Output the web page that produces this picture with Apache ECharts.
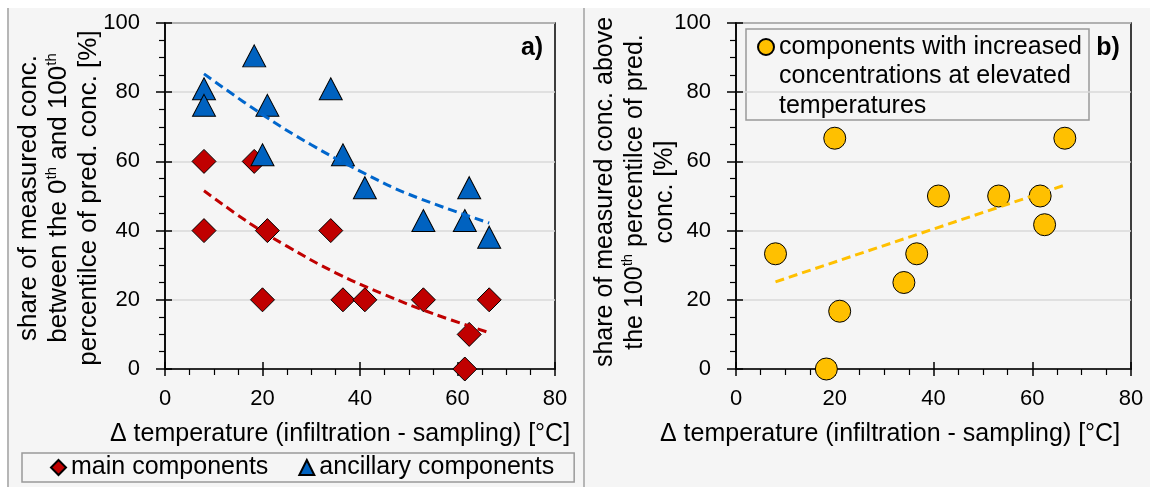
<!DOCTYPE html>
<html>
<head>
<meta charset="utf-8">
<script src="https://cdn.jsdelivr.net/npm/echarts@6/dist/echarts.min.js"></script>
<style>
  html, body { margin: 0; padding: 0; background: #ffffff; }
  #chart { width: 1150px; height: 487px; }
</style>
</head>
<body>
<div id="chart"></div>
<script>
// a) main components (share in %, 5 components)
var mainX = [8, 8, 18.3, 20, 21, 34, 36.5, 41, 53, 62.4, 61.5, 66.5];
var mainY = [60, 40, 60, 20, 40, 40, 20, 20, 20, 10, 0, 20];
// a) ancillary components
var ancX = [8, 8, 18.3, 21, 20, 34, 36.5, 41, 53, 62.4, 61.5, 66.5];
var ancY = [81, 76.2, 90.5, 76.2, 61.9, 81, 61.9, 52.4, 42.9, 52.4, 42.9, 38.1];
// a) trend lines
var mainTrendX = [8, 17.5, 25, 35, 45, 55, 66.5];
var mainTrendY = [51.5, 42, 35.5, 27.8, 21.5, 16, 10.5];
var ancTrendX = [8, 20, 30, 40, 50, 66.5];
var ancTrendY = [85.3, 73.5, 64.8, 57.2, 50.5, 42.2];
// b) components with increased concentrations
var incX = [8, 20, 18.3, 21, 34, 36.6, 41, 53.2, 61.6, 62.5, 66.6];
var incY = [33.3, 66.7, 0, 16.7, 25, 33.3, 50, 50, 50, 41.7, 66.7];
var incTrendX = [8, 66.5];
var incTrendY = [25.2, 53.1];
// axis ticks
var xTicks = { min: 0, max: 80, step: 20 };
var yTicks = { min: 0, max: 100, step: 20 };

var FONT = 'Liberation Sans, Arial, sans-serif';
var incName = 'components with increased\nconcentrations at elevated\ntemperatures';

function pairs(xs, ys) {
  return xs.map(function (x, i) { return [x, ys[i]]; });
}

// main axis: outside ticks, minor ticks, labels
function mainAxis(dim, grid, t) {
  return {
    gridIndex: grid, type: 'value', min: t.min, max: t.max, interval: t.step,
    position: dim === 'x' ? 'bottom' : 'left',
    axisLine: { show: true, lineStyle: { color: '#000', width: 1.5 } },
    axisTick: { show: true, length: dim === 'x' ? 7 : 9, lineStyle: { color: '#000', width: 1.5 } },
    minorTick: { show: true, splitNumber: 4, length: 6, lineStyle: { color: '#000', width: 1.2 } },
    splitLine: { show: dim === 'y', lineStyle: { color: '#d9d9d9', width: 1.5 } },
    axisLabel: { fontSize: 22, color: '#000', fontFamily: FONT, margin: dim === 'x' ? 19 : 25 }
  };
}
// twin axis only for the inner half of the crossing major ticks
function innerAxis(dim, grid, t) {
  return {
    gridIndex: grid, type: 'value', min: t.min, max: t.max, interval: t.step,
    position: dim === 'x' ? 'bottom' : 'left',
    axisLine: { show: false },
    axisTick: { show: true, inside: true, length: 7, lineStyle: { color: '#000', width: 1.5 } },
    axisLabel: { show: false },
    splitLine: { show: false }
  };
}

var dashed = function (color) {
  return { color: color, width: 3, type: [9, 5] };
};

var chart = echarts.init(document.getElementById('chart'));
chart.setOption({
  backgroundColor: '#f5f5f5',
  animation: false,
  grid: [
    { left: 165, top: 23, width: 390, height: 346, show: true, borderColor: '#000', borderWidth: 1.5, backgroundColor: 'transparent' },
    { left: 736, top: 23, width: 395, height: 346, show: true, borderColor: '#000', borderWidth: 1.5, backgroundColor: 'transparent' }
  ],
  xAxis: [mainAxis('x', 0, xTicks), innerAxis('x', 0, xTicks), mainAxis('x', 1, xTicks), innerAxis('x', 1, xTicks)],
  yAxis: [mainAxis('y', 0, yTicks), innerAxis('y', 0, yTicks), mainAxis('y', 1, yTicks), innerAxis('y', 1, yTicks)],
  legend: [
    {
      data: ['main components', 'ancillary components'],
      left: 22, top: 453,
      itemWidth: 15, itemHeight: 15, itemGap: 30,
      padding: [1, 20, 1, 28],
      borderColor: '#999', borderWidth: 1.5,
      textStyle: { fontSize: 25, color: '#000', fontFamily: FONT, lineHeight: 27 }
    },
    {
      data: [incName],
      left: 757, top: -26.75,
      itemWidth: 16, itemHeight: 16,
      padding: 0,
      // two empty lines on top keep the icon beside the first text line
      formatter: function (name) { return '\n\n' + name; },
      textStyle: { fontSize: 25, color: '#000', fontFamily: FONT, lineHeight: 29.5 }
    }
  ],
  graphic: [
    { type: 'rect', shape: { x: 0, y: 0, width: 1150, height: 8 }, style: { fill: '#ffffff' }, silent: true, z: -10 },
    { type: 'rect', shape: { x: 0, y: 0, width: 7, height: 487 }, style: { fill: '#ffffff' }, silent: true, z: -10 },
    { type: 'line', shape: { x1: 8, y1: 8, x2: 8, y2: 487 }, style: { stroke: '#a0a0a0', lineWidth: 1.5 }, silent: true },
    { type: 'line', shape: { x1: 584, y1: 8, x2: 584, y2: 487 }, style: { stroke: '#a0a0a0', lineWidth: 1.5 }, silent: true },
    { type: 'rect', shape: { x: 746, y: 29, width: 343, height: 91 }, style: { fill: 'none', stroke: '#999', lineWidth: 1.5 }, silent: true },
    { type: 'text', x: 532, y: 48, style: { text: 'a)', font: 'bold 25px ' + FONT, fill: '#000', align: 'center', verticalAlign: 'middle', textAlign: 'center', textVerticalAlign: 'middle' } },
    { type: 'text', x: 1108, y: 48, style: { text: 'b)', font: 'bold 25px ' + FONT, fill: '#000', align: 'center', verticalAlign: 'middle', textAlign: 'center', textVerticalAlign: 'middle' } },
    { type: 'text', x: 340, y: 434, style: { text: '\u0394 temperature (infiltration - sampling) [\u00b0C]', font: '25px ' + FONT, fill: '#000', align: 'center', verticalAlign: 'middle', textAlign: 'center', textVerticalAlign: 'middle' } },
    { type: 'text', x: 890, y: 434, style: { text: '\u0394 temperature (infiltration - sampling) [\u00b0C]', font: '25px ' + FONT, fill: '#000', align: 'center', verticalAlign: 'middle', textAlign: 'center', textVerticalAlign: 'middle' } },
    {
      type: 'text', x: 59, y: 198, rotation: Math.PI / 2,
      style: {
        text: 'share of measured conc.\nbetween the 0{s|th} and 100{s|th}\npercentilce of pred. conc. [%]',
        fontSize: 26, fontFamily: FONT, fill: '#000', lineHeight: 30,
        align: 'center', verticalAlign: 'middle', textAlign: 'center', textVerticalAlign: 'middle',
        rich: { s: { fontSize: 15, fontFamily: FONT, verticalAlign: 'top', lineHeight: 18 } }
      }
    },
    {
      type: 'text', x: 635, y: 192, rotation: Math.PI / 2,
      style: {
        text: 'share of measured conc. above\nthe 100{s|th} percentilce of pred.\nconc. [%]',
        fontSize: 25, fontFamily: FONT, fill: '#000', lineHeight: 30,
        align: 'center', verticalAlign: 'middle', textAlign: 'center', textVerticalAlign: 'middle',
        rich: { s: { fontSize: 15, fontFamily: FONT, verticalAlign: 'top', lineHeight: 18 } }
      }
    }
  ],
  series: [
    {
      name: 'main components', type: 'scatter', xAxisIndex: 0, yAxisIndex: 0,
      symbol: 'diamond', symbolSize: [24, 24],
      itemStyle: { color: '#c00000', borderColor: '#000', borderWidth: 1, opacity: 1 },
      data: pairs(mainX, mainY), z: 3
    },
    {
      name: 'ancillary components', type: 'scatter', xAxisIndex: 0, yAxisIndex: 0,
      symbol: 'triangle', symbolSize: [23, 22],
      itemStyle: { color: '#0062c0', borderColor: '#000', borderWidth: 1, opacity: 1 },
      data: pairs(ancX, ancY), z: 4
    },
    {
      name: 'main trend', type: 'line', xAxisIndex: 0, yAxisIndex: 0,
      data: pairs(mainTrendX, mainTrendY), smooth: 0.4, symbol: 'none',
      lineStyle: dashed('#c00000'), z: 5
    },
    {
      name: 'ancillary trend', type: 'line', xAxisIndex: 0, yAxisIndex: 0,
      data: pairs(ancTrendX, ancTrendY), smooth: 0.4, symbol: 'none',
      lineStyle: dashed('#0066cc'), z: 5
    },
    {
      name: incName, type: 'scatter', xAxisIndex: 2, yAxisIndex: 2,
      symbol: 'circle', symbolSize: 22,
      itemStyle: { color: '#ffc000', borderColor: '#000', borderWidth: 1, opacity: 1 },
      data: pairs(incX, incY), z: 3
    },
    {
      name: 'increased trend', type: 'line', xAxisIndex: 2, yAxisIndex: 2,
      data: pairs(incTrendX, incTrendY), symbol: 'none',
      lineStyle: dashed('#ffc000'), z: 5
    }
  ]
});
</script>
</body>
</html>
